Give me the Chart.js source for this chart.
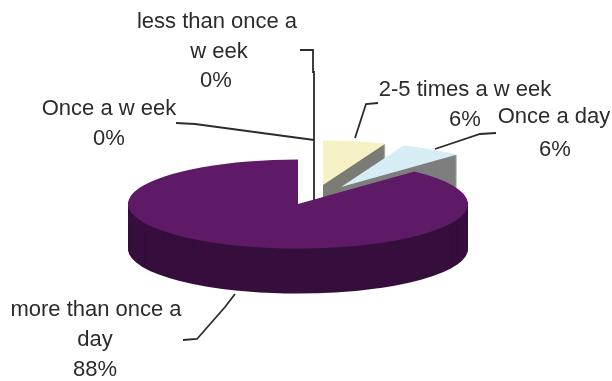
<!DOCTYPE html>
<html>
<head>
<meta charset="utf-8">
<style>
  html, body { margin: 0; padding: 0; background: #fff; overflow: hidden; }
  #pie { display: block; filter: blur(0.5px); }
</style>
<script src="https://cdn.jsdelivr.net/npm/chart.js@4"></script>
</head>
<body>
<canvas id="pie" width="612" height="381"></canvas>
<script>
// Values, clockwise from 12 o'clock
const categories = ['less than once a week', 'Once a week', '2-5 times a week', 'Once a day', 'more than once a day'];
const shares = [0, 0, 6, 6, 88];
const topColors = ['#f6f2c6', '#f6f2c6', '#f6f2c6', '#d6edf5', '#5e1a66'];
const rimColors = ['#7c7c76', '#7c7c76', '#7c7c76', '#7e7e7e', '#360f3d'];

// How far each slice is pulled out of the pie, in pixels
const pullX = [0, 0, 25, 43, 0];
const pullY = [0, 0, -19, -17, 0];

const squash = 0.262;
const depth = 45;

// Text and leader lines, same order as categories
const labels = [
  { lines: ['less than once a', 'w eek', '0%'], x: [217, 219, 216], y: [28, 58, 87], leader: [[300, 50], [313, 50], [313, 72], [314, 72], [314, 200]] },
  { lines: ['Once a w eek', '0%'], x: [109, 109], y: [115, 145], leader: [[176, 123], [195, 124], [314, 140]] },
  { lines: ['2-5 times a w eek', '6%'], x: [465, 465], y: [96, 126], leader: [[378, 103], [366, 104], [355, 138]] },
  { lines: ['Once a day', '6%'], x: [554, 555], y: [123, 156], leader: [[496, 133], [480, 134], [435, 149]] },
  { lines: ['more than once a', 'day', '88%'], x: [96, 95, 95], y: [316, 346, 376], leader: [[235, 294], [225, 307], [197, 339], [183, 340]] }
];

// Lay the library's pie flat and give each slice a rim
const tilted = {
  id: 'tilted',
  beforeDatasetDraw(chart) {
    const { ctx } = chart;
    chart.getDatasetMeta(0).data.forEach((arc, i) => {
      const topColor = arc.options.backgroundColor;
      for (let d = depth; d >= 0; d--) {
        ctx.save();
        ctx.translate(pullX[i], pullY[i] + d);
        ctx.translate(0, arc.y);
        ctx.scale(1, squash);
        ctx.translate(0, -arc.y);
        arc.options.backgroundColor = d === 0 ? topColor : rimColors[i];
        arc.draw(ctx);
        ctx.restore();
      }
    });
    return false;
  },
  afterDraw(chart) {
    const { ctx } = chart;
    ctx.save();
    ctx.font = '22px "Liberation Sans", Arial, sans-serif';
    ctx.textAlign = 'center';
    ctx.textBaseline = 'alphabetic';
    ctx.fillStyle = '#2b2b2b';
    ctx.strokeStyle = '#2b2b2b';
    ctx.lineWidth = 1.8;
    labels.forEach(label => {
      label.lines.forEach((line, i) => ctx.fillText(line, label.x[i], label.y[i]));
      ctx.beginPath();
      label.leader.forEach(([x, y], i) => (i ? ctx.lineTo(x, y) : ctx.moveTo(x, y)));
      ctx.stroke();
    });
    ctx.restore();
  }
};

new Chart(document.getElementById('pie'), {
  type: 'pie',
  data: {
    labels: categories,
    datasets: [{ data: shares, backgroundColor: topColors, borderWidth: 0 }]
  },
  options: {
    responsive: false,
    animation: false,
    layout: { padding: { left: 128, right: 144, top: 34, bottom: 7 } },
    plugins: { legend: { display: false }, tooltip: { enabled: false } }
  },
  plugins: [tilted]
});
</script>
</body>
</html>
